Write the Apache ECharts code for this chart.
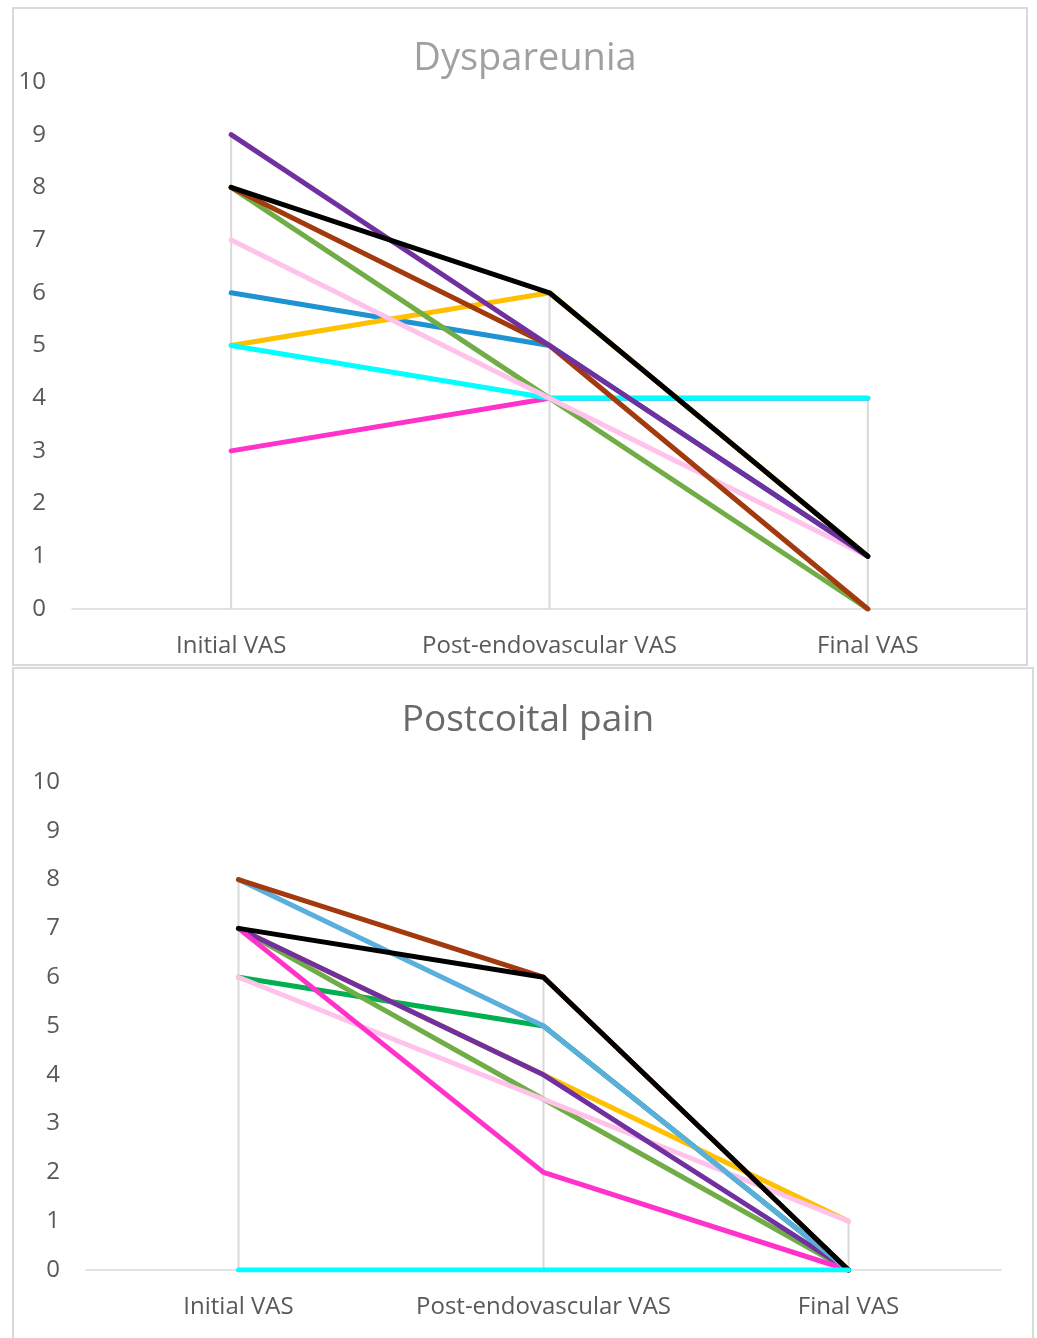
<!DOCTYPE html>
<html>
<head>
<meta charset="utf-8">
<script src="https://cdn.jsdelivr.net/npm/echarts@6/dist/echarts.min.js"></script>
<style>
html,body{margin:0;padding:0;background:#fff;}
#c{width:1037px;height:1338px;}
</style>
</head>
<body>
<div id="c"></div>
<script>
// Categories and tick labels
const categories = ['Initial VAS', 'Post-endovascular VAS', 'Final VAS'];
const yTicks = [0, 10, 1]; // min, max, interval

// Dyspareunia series (drawn in this order, last on top)
const dysBlue    = [6, 5, 1];
const dysOrange  = [5, 6, 1];
const dysMagenta = [3, 4, 4];
const dysCyan    = [5, 4, 4];
const dysGreen   = [8, 4, 0];
const dysPink    = [7, 4, 1];
const dysBrown   = [8, 5, 0];
const dysPurple  = [9, 5, 1];
const dysBlack   = [8, 6, 1];

// Postcoital pain series
const pcDarkGreen  = [6, 5, 0];
const pcOrange     = [7, 4, 1];
const pcLightGreen = [7, 3.5, 0];
const pcPink       = [6, 3.5, 1];
const pcPurple     = [7, 4, 0];
const pcMagenta    = [7, 2, 0];
const pcLightBlue  = [8, 5, 0];
const pcBrown      = [8, 6, 0];
const pcBlack      = [7, 6, 0];
const pcCyan       = [0, 0, 0];

const dysSeries = [
  [dysBlue, '#1f93d2'], [dysOrange, '#ffc000'], [dysMagenta, '#ff33cc'], [dysCyan, '#00ffff'],
  [dysGreen, '#70ad47'], [dysPink, '#ffc3eb'], [dysBrown, '#a33a0e'], [dysPurple, '#7030a0'], [dysBlack, '#000000']
];
const pcSeries = [
  [pcDarkGreen, '#00b050'], [pcOrange, '#ffc000'], [pcLightGreen, '#70ad47'], [pcPink, '#ffc3eb'],
  [pcPurple, '#7030a0'], [pcMagenta, '#ff33cc'], [pcLightBlue, '#5aafdc'], [pcBrown, '#a33a0e'],
  [pcBlack, '#000000'], [pcCyan, '#00ffff']
];

function colMax(list) {
  return categories.map((_, i) => Math.max.apply(null, list.map(s => s[0][i])));
}

const chart = echarts.init(document.getElementById('c'), null, {renderer: 'canvas'});
const font = '"Open Sans", "Noto Sans", sans-serif';

function xAxisCfg(idx) {
  return {
    type: 'category', gridIndex: idx, data: categories, boundaryGap: true,
    axisLine: {lineStyle: {color: '#d9d9d9', width: 1.5}},
    axisTick: {show: false},
    axisLabel: {color: '#595959', fontSize: 24, fontFamily: font, margin: 25, interval: 0, hideOverlap: false},
    splitLine: {show: false}
  };
}
function yAxisCfg(idx) {
  return {
    type: 'value', gridIndex: idx, min: yTicks[0], max: yTicks[1], interval: yTicks[2],
    axisLine: {show: false}, axisTick: {show: false}, splitLine: {show: false},
    axisLabel: {color: '#595959', fontSize: 24, fontFamily: font, margin: 26}
  };
}

const series = [];
function addGroup(list, idx) {
  series.push({
    type: 'bar', xAxisIndex: idx, yAxisIndex: idx, data: colMax(list),
    barWidth: 2, itemStyle: {color: '#d9d9d9'}, silent: true, z: 1
  });
  list.forEach((s, k) => {
    series.push({
      type: 'line', xAxisIndex: idx, yAxisIndex: idx, data: s[0],
      showSymbol: false, symbol: 'none', lineStyle: {color: s[1], width: 5, cap: 'round', join: 'round'},
      itemStyle: {color: s[1]}, z: 2 + k, silent: true, animation: false
    });
  });
}
addGroup(dysSeries, 0);
addGroup(pcSeries, 1);

chart.setOption({
  animation: false,
  backgroundColor: '#ffffff',
  title: [
    {text: 'Dyspareunia', left: 520, top: 35, textAlign: 'center',
     textStyle: {color: '#a0a0a0', fontSize: 38, fontWeight: 'normal', fontFamily: font}},
    {text: 'Postcoital pain', left: 523, top: 697, textAlign: 'center',
     textStyle: {color: '#6a6a6a', fontSize: 37, fontWeight: 'normal', fontFamily: font}}
  ],
  grid: [
    {left: 72, top: 82, width: 955, height: 527},
    {left: 86, top: 782, width: 915, height: 488}
  ],
  xAxis: [xAxisCfg(0), xAxisCfg(1)],
  yAxis: [yAxisCfg(0), yAxisCfg(1)],
  graphic: [
    {type: 'rect', shape: {x: 13, y: 8, width: 1014, height: 657}, style: {fill: 'none', stroke: '#d9d9d9', lineWidth: 2}, silent: true},
    {type: 'rect', shape: {x: 13, y: 668, width: 1020, height: 680}, style: {fill: 'none', stroke: '#d9d9d9', lineWidth: 2}, silent: true}
  ],
  series: series
});
</script>
</body>
</html>
